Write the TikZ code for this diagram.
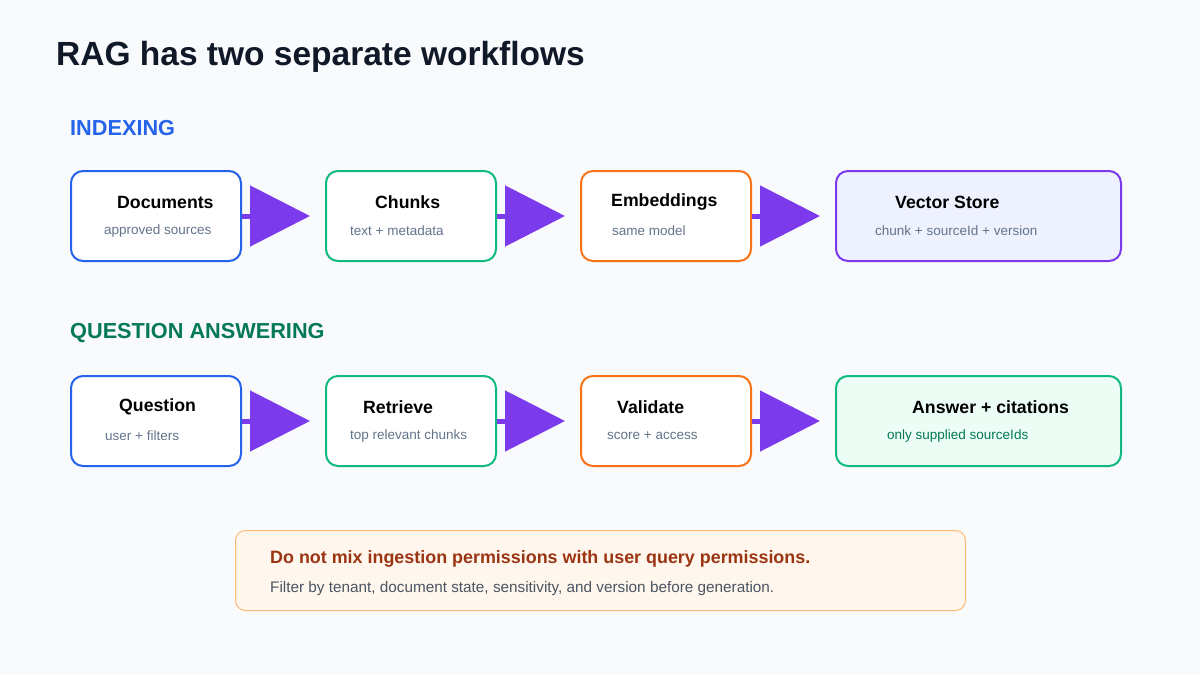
\documentclass[tikz,border=0pt]{standalone}
\usepackage{fontspec}
\setmainfont{Liberation Sans}
\usetikzlibrary{arrows.meta,positioning}
\definecolor{bgcolor}{HTML}{F8FAFC}
\definecolor{titlecolor}{HTML}{111827}
\definecolor{subcolor}{HTML}{64748B}
\definecolor{ragblue}{HTML}{2563EB}
\definecolor{raggreen}{HTML}{10B981}
\definecolor{ragdkgreen}{HTML}{047857}
\definecolor{ragorange}{HTML}{F97316}
\definecolor{ragpurple}{HTML}{7C3AED}
\definecolor{storefill}{HTML}{EEF2FF}
\definecolor{answerfill}{HTML}{ECFDF5}
\definecolor{notefill}{HTML}{FFF7ED}
\definecolor{noteline}{HTML}{FDBA74}
\definecolor{notetext}{HTML}{9A3412}
\definecolor{notegray}{HTML}{4B5563}
\begin{document}
\begin{tikzpicture}[
    x=1pt, y=-1pt,
    stage/.style={draw, line width=2pt, rounded corners=12pt, fill=white, minimum height=90pt, anchor=north west},
    head/.style={anchor=west, font=\fontsize{17.7}{21}\selectfont\bfseries, text=black, inner sep=0pt},
    sub/.style={anchor=west, font=\fontsize{13.5}{16}\selectfont, text=subcolor, inner sep=0pt},
    lane/.style={anchor=west, font=\fontsize{21.7}{26}\selectfont\bfseries, inner sep=0pt},
    flow/.style={-{Triangle[length=60pt 0, width=60pt 0]}, line width=5pt, ragpurple, shorten >=15pt}
]
\fill[bgcolor] (0,0) rectangle (1200,675);
\useasboundingbox (0,0) rectangle (1200,675);

% Title
\node[anchor=west, font=\fontsize{33.5}{40}\selectfont\bfseries, text=titlecolor, inner sep=0pt] (title) at (56,57) {RAG has two separate workflows};

% Indexing lane
\node[lane, text=ragblue] (lindex) at (70,128) {INDEXING};
\node[stage, draw=ragblue, minimum width=170pt] (docs) at (70,170) {};
\node[stage, draw=raggreen, minimum width=170pt] (chunks) at (325,170) {};
\node[stage, draw=ragorange, minimum width=170pt] (embed) at (580,170) {};
\node[stage, draw=ragpurple, fill=storefill, minimum width=285pt] (store) at (835,170) {};
\node[head] at (117,202) {Documents};
\node[sub] at (104,231) {approved sources};
\node[head] at (375,202) {Chunks};
\node[sub] at (350,231) {text + metadata};
\node[head] at (611,202) {Embeddings};
\node[sub] at (612,231) {same model};
\node[head] at (895,202) {Vector Store};
\node[sub] at (875,231) {chunk + sourceId + version};
\draw[flow] (docs) -- (chunks);
\draw[flow] (chunks) -- (embed);
\draw[flow] (embed) -- (store);

% Question answering lane
\node[lane, text=ragdkgreen] (lqa) at (70,333) {QUESTION ANSWERING};
\node[stage, draw=ragblue, minimum width=170pt] (question) at (70,375) {};
\node[stage, draw=raggreen, minimum width=170pt] (retrieve) at (325,375) {};
\node[stage, draw=ragorange, minimum width=170pt] (validate) at (580,375) {};
\node[stage, draw=raggreen, fill=answerfill, minimum width=285pt] (answer) at (835,375) {};
\node[head] at (119,407) {Question};
\node[sub] at (105,436) {user + filters};
\node[head] at (363,407) {Retrieve};
\node[sub] at (350,436) {top relevant chunks};
\node[head] at (617,407) {Validate};
\node[sub] at (607,436) {score + access};
\node[head] at (912,407) {Answer + citations};
\node[sub, text=ragdkgreen] at (887,436) {only supplied sourceIds};
\draw[flow] (question) -- (retrieve);
\draw[flow] (retrieve) -- (validate);
\draw[flow] (validate) -- (answer);

% Note
\node[draw=noteline, fill=notefill, line width=1pt, rounded corners=10pt, minimum width=730pt, minimum height=80pt, anchor=north west] (note) at (235,530) {};
\node[anchor=west, inner sep=0pt, font=\fontsize{17.9}{21}\selectfont\bfseries, text=notetext] at (270,559) {Do not mix ingestion permissions with user query permissions.};
\node[anchor=west, inner sep=0pt, font=\fontsize{15.3}{18}\selectfont, text=notegray] at (270,589) {Filter by tenant, document state, sensitivity, and version before generation.};
\end{tikzpicture}
\end{document}
